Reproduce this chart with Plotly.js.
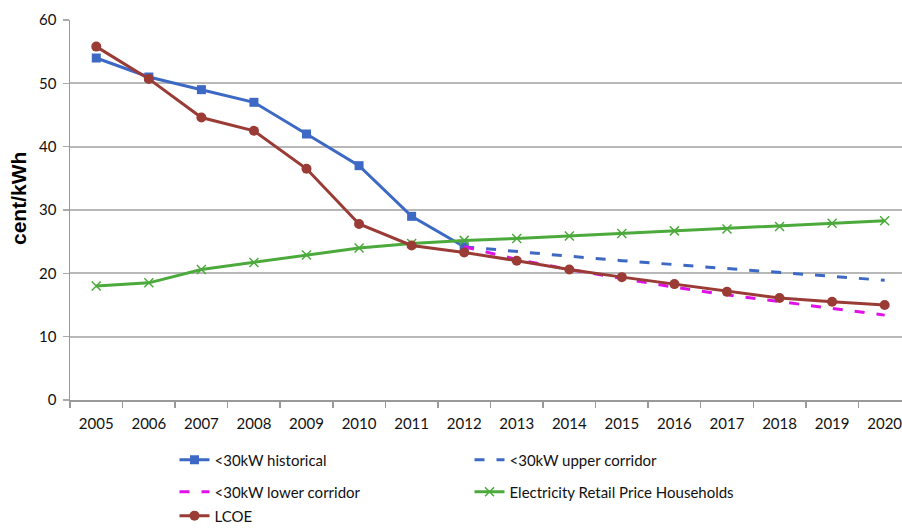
<!DOCTYPE html>
<html>
<head>
<meta charset="utf-8">
<script src="https://cdn.plot.ly/plotly-3.0.1.min.js"></script>
<style>html,body{margin:0;padding:0;background:#fff;}#chart{width:902px;height:529px;}</style>
</head>
<body>
<div id="chart"></div>
<script>
const years = ['2005','2006','2007','2008','2009','2010','2011','2012','2013','2014','2015','2016','2017','2018','2019','2020'];
const histYears = ['2005','2006','2007','2008','2009','2010','2011','2012'];
const historical = [54, 51, 49, 47, 42, 37, 29, 24.2];
const corridorYears = ['2012','2013','2014','2015','2016','2017','2018','2019','2020'];
const upperCorridor = [24.2, 23.4, 22.7, 22.0, 21.4, 20.8, 20.1, 19.5, 18.9];
const lowerCorridor = [24.2, 22.2, 20.6, 19.2, 17.8, 16.6, 15.5, 14.4, 13.4];
const retailPrice = [18, 18.5, 20.6, 21.7, 22.9, 24, 24.7, 25.2, 25.5, 25.9, 26.3, 26.7, 27.0, 27.4, 27.9, 28.3];
const lcoe = [55.8, 50.7, 44.6, 42.5, 36.5, 27.8, 24.4, 23.3, 22.0, 20.6, 19.4, 18.3, 17.1, 16.1, 15.5, 15.0];
const yTicks = [0, 10, 20, 30, 40, 50, 60];
const yTitle = 'cent/kWh';

const blue = '#3d69c4', brown = '#9a3b36', green = '#4caa3c', magenta = '#e010e8';
const FONT = 'Lato, "Open Sans", sans-serif';

const traces = [
  {x: histYears, y: historical, name: '<30kW historical', mode: 'lines+markers',
   line: {color: blue, width: 3}, marker: {symbol: 'square', size: 9, color: blue}, legend: 'legend'},
  {x: corridorYears, y: upperCorridor, name: '<30kW upper corridor', mode: 'lines',
   line: {color: blue, width: 3, dash: '10px,12px'}, legend: 'legend'},
  {x: corridorYears, y: lowerCorridor, name: '<30kW lower corridor', mode: 'lines',
   line: {color: magenta, width: 3, dash: '10px,12px'}, legend: 'legend2'},
  {x: years, y: retailPrice, name: 'Electricity Retail Price Households', mode: 'lines+markers',
   line: {color: green, width: 3}, marker: {symbol: 'x-thin', size: 9, color: green, line: {color: green, width: 1.5}}, legend: 'legend2'},
  {x: years, y: lcoe, name: 'LCOE', mode: 'lines+markers',
   line: {color: brown, width: 3}, marker: {symbol: 'circle', size: 10, color: brown}, legend: 'legend3'}
];

const legBase = {orientation: 'h', xanchor: 'left', yanchor: 'middle', entrywidth: 250, entrywidthmode: 'pixels',
  font: {family: FONT, size: 15, color: '#111'}, bgcolor: 'rgba(0,0,0,0)'};

const layout = {
  width: 902, height: 529,
  margin: {l: 70, r: 0, t: 20, b: 129, autoexpand: false},
  paper_bgcolor: '#fff', plot_bgcolor: '#fff',
  font: {family: FONT, size: 15, color: '#111'},
  showlegend: true,
  xaxis: {type: 'category', categoryorder: 'array', categoryarray: years,
    range: [-0.5, 15.33], tickson: 'boundaries', ticks: 'outside', ticklen: 6, tickcolor: '#999', tickwidth: 1.5,
    showline: true, linecolor: '#999', linewidth: 1.5, showgrid: false, zeroline: false,
    tickfont: {family: FONT, size: 15, color: '#111'}, ticklabelstandoff: 9, fixedrange: true},
  yaxis: {range: [0, 60], tickvals: yTicks, ticktext: yTicks.map(String), ticks: 'outside', ticklen: 6, tickcolor: '#aaa', tickwidth: 1.5,
    showline: true, linecolor: '#999', linewidth: 1.5, showgrid: true, gridcolor: '#b8b8b8', gridwidth: 2, zeroline: false,
    tickfont: {family: FONT, size: 15, color: '#111'}, ticklabelstandoff: 3},
  annotations: [{text: yTitle, xref: 'paper', yref: 'paper', x: -0.0613, y: 0.5316, xanchor: 'center', yanchor: 'middle',
    textangle: -90, showarrow: false, font: {family: 'Liberation Sans, Arial, sans-serif', size: 21, color: '#000', weight: 'bold'}}],
  legend: Object.assign({}, legBase, {x: 0.1256, y: -0.158}),
  legend2: Object.assign({}, legBase, {x: 0.1256, y: -0.242}),
  legend3: Object.assign({}, legBase, {x: 0.1256, y: -0.305})
};

Plotly.newPlot('chart', traces, layout, {displayModeBar: false, staticPlot: true});
</script>
</body>
</html>
